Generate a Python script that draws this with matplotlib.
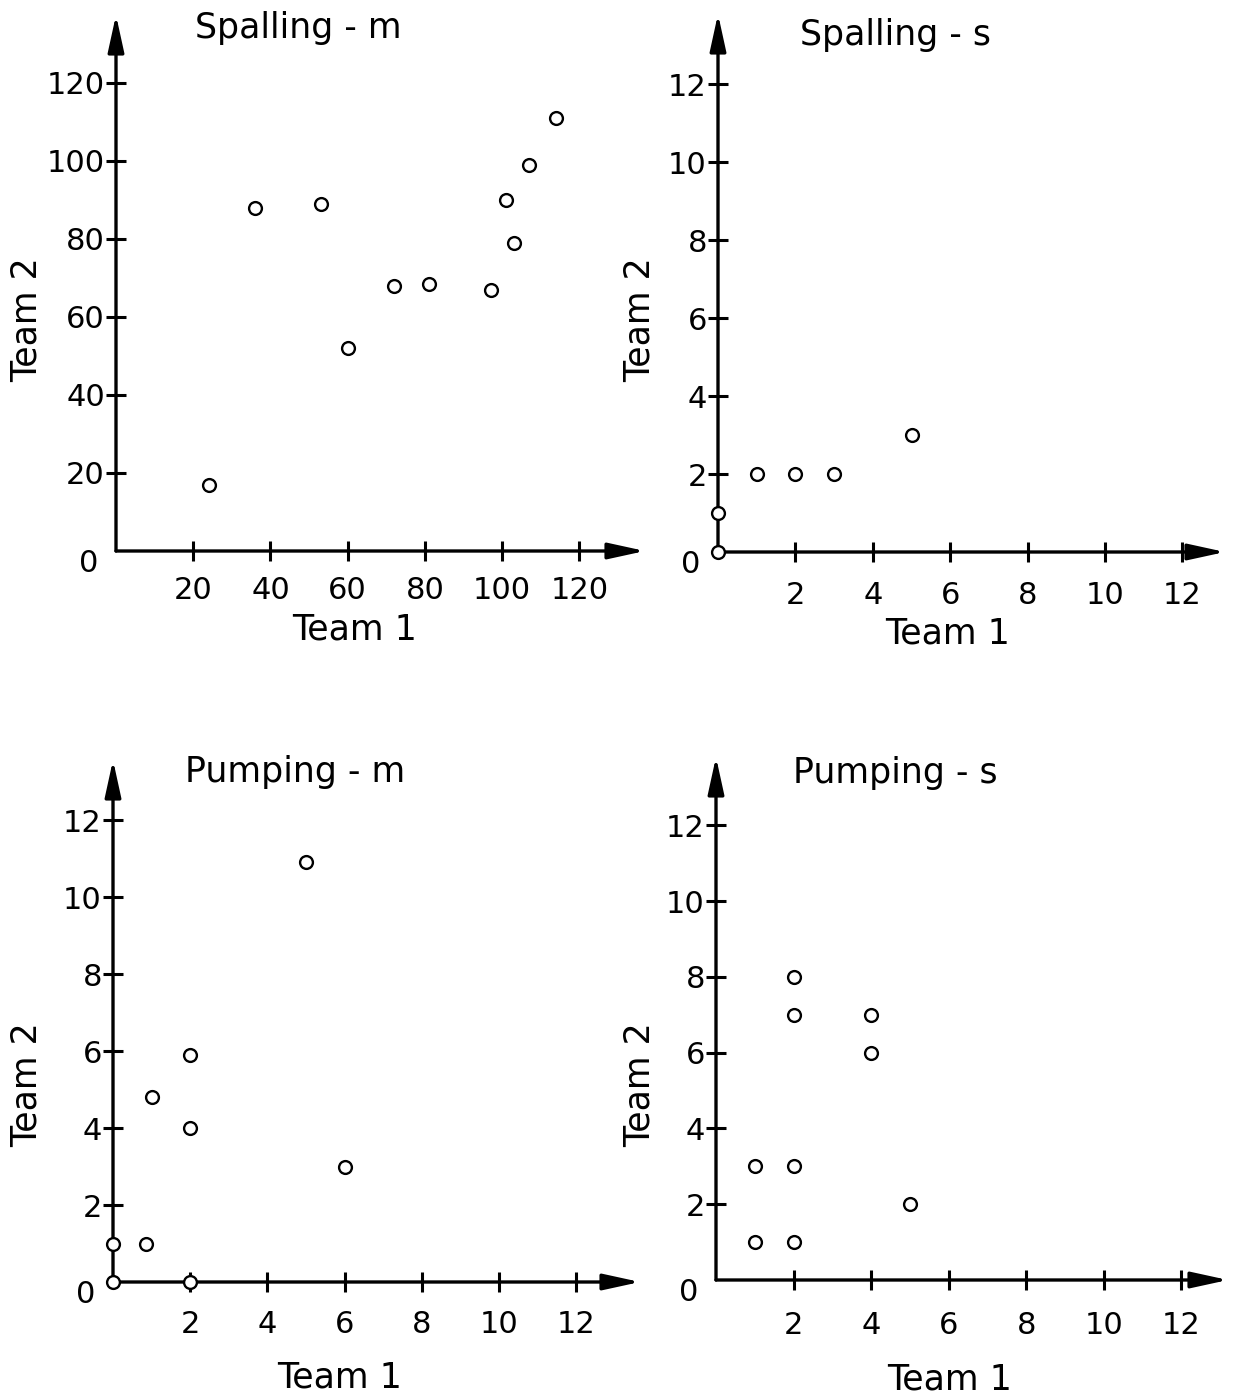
import matplotlib.pyplot as plt
import numpy as np

# values (Team 1 on x, Team 2 on y)
spall_m_t1 = [24, 36, 53, 60, 72, 81, 97, 101, 103, 107, 114]
spall_m_t2 = [17, 88, 89, 52, 68, 68.5, 67, 90, 79, 99, 111]

spall_s_t1 = [0, 0, 1, 2, 3, 5]
spall_s_t2 = [0, 1, 2, 2, 2, 3]

pump_m_t1 = [0, 0, 0.85, 1, 2, 2, 2, 5, 6]
pump_m_t2 = [1, 0, 1, 4.8, 5.9, 4, 0, 10.9, 3]

pump_s_t1 = [1, 1, 2, 2, 2, 2, 4, 4, 5]
pump_s_t2 = [1, 3, 8, 7, 3, 1, 7, 6, 2]

ticks_m = [20, 40, 60, 80, 100, 120]
ticks_s = [2, 4, 6, 8, 10, 12]

W, H = 1238, 1400
fig = plt.figure(figsize=(W / 100, H / 100), dpi=100)
plt.rcParams['font.family'] = ['DejaVu Sans']


def px_axes(x0, y0, x1, y1):
    # origin pixel (x0, y0), arrow tips at x1 (right) and y1 (top)
    return fig.add_axes([x0 / W, 1 - y0 / H, (x1 - x0) / W, (y0 - y1) / H])


def panel(ax, xs, ys, xmax, ymax, xt, yt, title, tpos, xlpos, ylpos, xpad):
    ax.set_xlim(0, xmax)
    ax.set_ylim(0, ymax)
    for s in ax.spines.values():
        s.set_visible(False)
    ax.patch.set_alpha(0)
    arrow = dict(arrowstyle='-|>,head_length=1.6,head_width=0.35',
                 color='black', lw=2.4, mutation_scale=14, shrinkA=0, shrinkB=0)
    ax.annotate('', xy=(xmax, 0), xytext=(0, 0), arrowprops=arrow,
                annotation_clip=False)
    ax.annotate('', xy=(0, ymax), xytext=(0, 0), arrowprops=arrow,
                annotation_clip=False)
    ax.set_xticks(xt)
    ax.set_yticks(yt)
    ax.tick_params(direction='inout', length=14, width=2.2, labelsize=22,
                   color='black')
    ax.tick_params(axis='y', pad=1)
    ax.tick_params(axis='x', pad=xpad)
    ax.annotate('0', xy=(0, 0), xytext=(-20, -9), textcoords='offset points',
                ha='center', va='center', fontsize=22)
    ax.scatter(xs, ys, s=85, facecolors='white', edgecolors='black',
               linewidths=1.7, clip_on=False, zorder=5)
    fig.text(tpos[0] / W, 1 - tpos[1] / H, title, fontsize=25,
             ha='center', va='center')
    fig.text(xlpos[0] / W, 1 - xlpos[1] / H, 'Team 1', fontsize=25,
             ha='center', va='center')
    fig.text(ylpos[0] / W, 1 - ylpos[1] / H, 'Team 2', fontsize=25,
             ha='center', va='center', rotation=90)


ax1 = px_axes(116, 551, 645, 15)
panel(ax1, spall_m_t1, spall_m_t2, 137, 137.4, ticks_m, ticks_m,
      'Spalling - m', (298, 28), (355, 630), (27, 320), 11)

ax2 = px_axes(718, 552, 1225, 14)
panel(ax2, spall_s_t1, spall_s_t2, 13.1, 13.8, ticks_s, ticks_s,
      'Spalling - s', (895, 35), (948, 633), (640, 320), 14)

ax3 = px_axes(113, 1282, 640, 760)
panel(ax3, pump_m_t1, pump_m_t2, 13.65, 13.56, ticks_s, ticks_s,
      'Pumping - m', (295, 772), (340, 1378), (27, 1085), 13)

ax4 = px_axes(716, 1280, 1228, 757)
panel(ax4, pump_s_t1, pump_s_t2, 13.2, 13.8, ticks_s, ticks_s,
      'Pumping - s', (895, 773), (950, 1380), (640, 1085), 15)

fig.savefig('out.png', dpi=100)
